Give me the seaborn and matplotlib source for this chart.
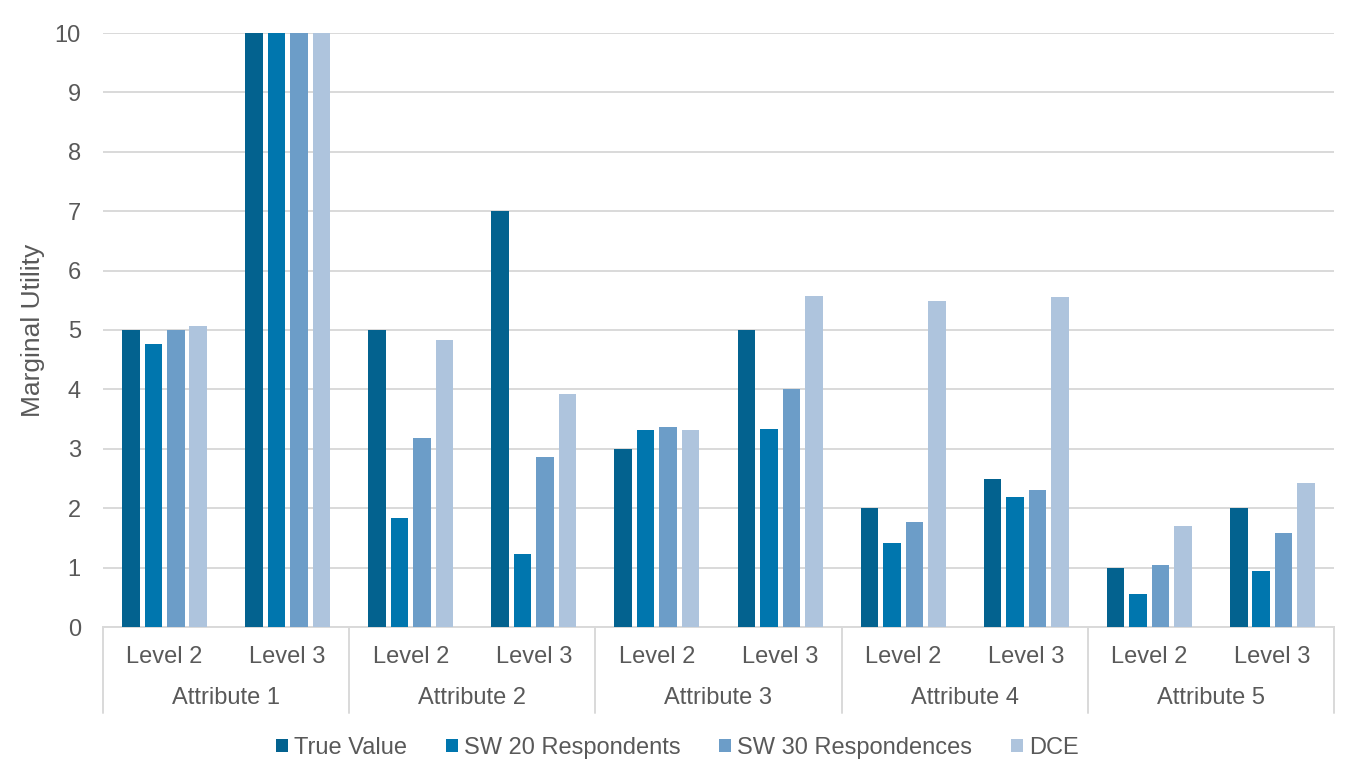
import matplotlib
matplotlib.use("Agg")
import matplotlib.pyplot as plt
import matplotlib.transforms as mtransforms
from matplotlib.lines import Line2D
from matplotlib.patches import Patch
import pandas as pd
import seaborn as sns

# ---- data -------------------------------------------------------------
attributes = ["Attribute 1", "Attribute 2", "Attribute 3", "Attribute 4", "Attribute 5"]
levels = ["Level 2", "Level 3"]
series = ["True Value", "SW 20 Respondents", "SW 30 Respondences", "DCE"]

true_value = [5.0, 10.0, 5.0, 7.0, 3.0, 5.0, 2.0, 2.5, 1.0, 2.0]
sw20 = [4.76, 10.0, 1.84, 1.23, 3.31, 3.33, 1.41, 2.19, 0.56, 0.95]
sw30 = [5.0, 10.0, 3.19, 2.87, 3.36, 4.0, 1.77, 2.30, 1.05, 1.59]
dce = [5.07, 10.0, 4.83, 3.92, 3.32, 5.58, 5.49, 5.55, 1.70, 2.42]

colors = ["#03628F", "#0076AE", "#6C9DC8", "#AEC4DD"]

# ---- long-form table --------------------------------------------------
categories = [f"{a}|{l}" for a in attributes for l in levels]
rows = []
for name, vals in zip(series, [true_value, sw20, sw30, dce]):
    for cat, v in zip(categories, vals):
        rows.append({"category": cat, "series": name, "value": v})
df = pd.DataFrame(rows)

# ---- figure -----------------------------------------------------------
sns.set_style("white")
plt.rcParams["font.family"] = ["Liberation Sans", "DejaVu Sans"]
text_color = "#595959"
grid_color = "#D9D9D9"

fig = plt.figure(figsize=(13.55, 7.62), dpi=100)
W, H = 1355, 762
ax = fig.add_axes([103 / W, (H - 627) / H, (1334 - 103) / W, (627 - 33) / H])

sns.barplot(data=df, x="category", y="value", hue="series", order=categories,
            hue_order=series, palette=colors, width=0.73, gap=0.22,
            saturation=1, linewidth=0, legend=False, ax=ax, zorder=3)

ax.set_ylim(0, 10)
ax.set_xlim(-0.5, len(categories) - 0.5)
ax.set_yticks(range(0, 11))
ax.tick_params(axis="y", length=0, labelsize=17, labelcolor=text_color, pad=16)
ax.tick_params(axis="x", length=0)
ax.set_xticks([])
ax.set_xlabel("")
ax.set_ylabel("Marginal Utility", fontsize=19, color=text_color)
ax.yaxis.set_label_coords(33 / W, 1 - 330 / H, transform=fig.transFigure)
ax.yaxis.label.set_verticalalignment("center")
ax.yaxis.grid(True, color=grid_color, linewidth=1.4, zorder=0)
ax.set_axisbelow(True)
for side in ["left", "right", "top"]:
    ax.spines[side].set_visible(False)
ax.spines["bottom"].set_color(grid_color)
ax.spines["bottom"].set_linewidth(1.4)

# ---- two-level category axis -----------------------------------------
trans = mtransforms.blended_transform_factory(ax.transData, fig.transFigure)
y_level = 1 - 657 / H
y_attr = 1 - 698 / H
y_bottom = 1 - 713 / H
y_axis = 1 - 627 / H

for i, cat in enumerate(categories):
    attr, lvl = cat.split("|")
    ax.text(i, y_level, lvl, transform=trans, ha="center", va="center",
            fontsize=17, color=text_color)

n_lv = len(levels)
for j, attr in enumerate(attributes):
    center = j * n_lv + (n_lv - 1) / 2
    ax.text(center, y_attr, attr, transform=trans, ha="center", va="center",
            fontsize=17, color=text_color)

for j in range(len(attributes) + 1):
    xb = j * n_lv - 0.5
    ax.add_line(Line2D([xb, xb], [y_bottom, y_axis], transform=trans,
                       color=grid_color, linewidth=1.4, clip_on=False))

# ---- legend -----------------------------------------------------------
handles = [Patch(facecolor=c, edgecolor="none", label=s) for c, s in zip(colors, series)]
fig.legend(handles=handles, loc="center", bbox_to_anchor=(0.5, 1 - 748 / H),
           ncol=4, frameon=False, fontsize=17, labelcolor=text_color,
           handlelength=0.5, handleheight=0.5, handletextpad=0.25,
           columnspacing=1.65)

fig.savefig("out.png", dpi=100)
